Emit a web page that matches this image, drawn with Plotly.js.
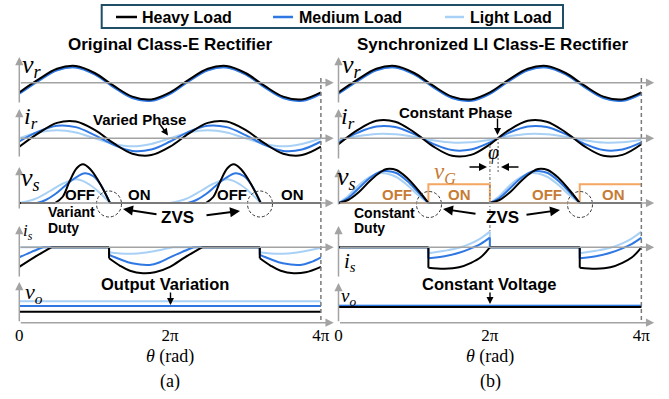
<!DOCTYPE html>
<html>
<head>
<meta charset="utf-8">
<script src="https://cdn.plot.ly/plotly-3.0.1.min.js"></script>
<style>
  html, body { margin: 0; padding: 0; background: #ffffff; }
  #chart { width: 669px; height: 399px; }
</style>
</head>
<body>
<div id="chart"></div>
<script>
const PI = Math.PI;

// ---------- series data (θ in rad unless noted; values are heights above each row's baseline) ----------
// Sinusoidal rows, sampled every quarter period (θ in units of π)
const thetaQuarterPi = [0, 0.25, 0.5, 0.75, 1, 1.25, 1.5, 1.75, 2, 2.25, 2.5, 2.75, 3, 3.25, 3.5, 3.75, 4];

// v_r : resonant voltage (same in both rectifiers)
const vrHeavy  = [-9.7, 3.0, 13.9, 16.7, 9.7, -3.0, -13.9, -16.7, -9.7, 3.0, 13.9, 16.7, 9.7, -3.0, -13.9, -16.7, -9.7];
const vrMedium = [-11.1, 1.6, 12.5, 15.3, 8.3, -4.4, -15.3, -18.1, -11.1, 1.6, 12.5, 15.3, 8.3, -4.4, -15.3, -18.1, -11.1];
const vrLight  = [-11.1, 1.6, 12.5, 15.3, 8.3, -4.4, -15.3, -18.1, -11.1, 1.6, 12.5, 15.3, 8.3, -4.4, -15.3, -18.1, -11.1];

// i_r : resonant current, original rectifier (phase varies with load)
const irHeavyA  = [-8.4, 4.9, 15.4, 16.8, 8.4, -4.9, -15.4, -16.8, -8.4, 4.9, 15.4, 16.8, 8.4, -4.9, -15.4, -16.8, -8.4];
const irMediumA = [-3.2, 6.6, 12.6, 11.2, 3.2, -6.6, -12.6, -11.2, -3.2, 6.6, 12.6, 11.2, 3.2, -6.6, -12.6, -11.2, -3.2];
const irLightA  = [0, 5.7, 8, 5.7, 0, -5.7, -8, -5.7, 0, 5.7, 8, 5.7, 0, -5.7, -8, -5.7, 0];
// i_r : synchronized rectifier (constant phase)
const irHeavyB  = [-6.0, 8.1, 17.5, 16.6, 6.0, -8.1, -17.5, -16.6, -6.0, 8.1, 17.5, 16.6, 6.0, -8.1, -17.5, -16.6, -6.0];
const irMediumB = [-4.1, 5.5, 11.8, 11.2, 4.1, -5.5, -11.8, -11.2, -4.1, 5.5, 11.8, 11.2, 4.1, -5.5, -11.8, -11.2, -4.1];
const irLightB  = [-1.5, 2.0, 4.3, 4.0, 1.5, -2.0, -4.3, -4.0, -1.5, 2.0, 4.3, 4.0, 1.5, -2.0, -4.3, -4.0, -1.5];

// v_s : switch voltage, original rectifier (null splits flat / hump segments)
const vsThetaHeavyA = [0, 1.49, null, 1.49, 1.80, 2.10, 2.40, 2.65, 2.95, 3.30, 3.78, null, 3.78, 7.77, null, 7.77, 8.08, 8.38, 8.68, 8.93, 9.23, 9.58, 10.06, null, 10.06, 12.57];
const vsHeavyA      = [0, 0, null, 0, 6, 22, 35, 38.7, 34, 22, 0, null, 0, 0, null, 0, 6, 22, 35, 38.7, 34, 22, 0, null, 0, 0];
const vsThetaMediumA = [0, 0.74, null, 0.74, 1.10, 1.50, 1.90, 2.32, 2.74, 3.07, 3.40, 3.78, null, 3.78, 7.02, null, 7.02, 7.38, 7.78, 8.18, 8.60, 9.02, 9.35, 9.68, 10.06, null, 10.06, 12.57];
const vsMediumA      = [0, 0, null, 0, 3, 9, 17, 25, 29.7, 27, 18, 0, null, 0, 0, null, 0, 3, 9, 17, 25, 29.7, 27, 18, 0, null, 0, 0];
const vsThetaLightA = [0, 0.65, 1.28, 1.78, 2.40, 2.95, 3.36, 3.78, null, 3.78, 6.28, null, 6.28, 6.93, 7.56, 8.06, 8.68, 9.23, 9.64, 10.06, null, 10.06, 12.57];
const vsLightA      = [0, 4, 12, 19, 23.7, 18, 10, 0, null, 0, 0, null, 0, 4, 12, 19, 23.7, 18, 10, 0, null, 0, 0];

// v_s : synchronized rectifier (constant duty)
const vsThetaB  = [0, 0.40, 0.85, 1.30, 1.75, 2.00, 2.40, 2.85, 3.30, 3.73, null, 3.73, 6.28, null, 6.28, 6.68, 7.13, 7.58, 8.03, 8.28, 8.68, 9.13, 9.58, 10.01, null, 10.01, 12.57];
const vsHeavyB  = [0, 3, 11, 22, 31, 34, 33, 25, 13, 0, null, 0, 0, null, 0, 3, 11, 22, 31, 34, 33, 25, 13, 0, null, 0, 0];
const vsMediumB = [0, 5, 15, 25, 31.5, 32, 30, 22, 11, 0, null, 0, 0, null, 0, 5, 15, 25, 31.5, 32, 30, 22, 11, 0, null, 0, 0];
const vsLightB  = [0, 7, 18, 26, 30, 29.5, 26, 18, 8, 0, null, 0, 0, null, 0, 7, 18, 26, 30, 29.5, 26, 18, 8, 0, null, 0, 0];

// v_G : gate drive of the synchronized switch
const vgTheta = [0, 3.73, 6.28, 10.01, 12.57];
const vgLevel = [0, 18.7, 0, 18.7, 18.7];

// i_s : switch current, original rectifier
const isThetaHeavyA = [0, 0.62, 1.33, null, 1.33, 3.74, null, 3.74, 3.74, null, 3.74, 4.20, 4.61, 5.15, 5.65, 6.28, 6.90, 7.61, null, 7.61, 10.02, null, 10.02, 10.02, null, 10.02, 10.48, 10.89, 11.43, 11.93, 12.57];
const isHeavyA      = [-19.5, -10, 0, null, 0, 0, null, 0, -11, null, -11, -18.5, -23.5, -26, -25, -19.5, -10, 0, null, 0, 0, null, 0, -11, null, -11, -18.5, -23.5, -26, -25, -19.5];
const isThetaMediumA = [0, 0.47, 0.98, null, 0.98, 3.74, null, 3.74, 3.74, null, 3.74, 4.20, 4.70, 5.43, 5.85, 6.28, 6.75, 7.26, null, 7.26, 10.02, null, 10.02, 10.02, null, 10.02, 10.48, 10.98, 11.71, 12.13, 12.57];
const isMediumA      = [-10, -5, 0, null, 0, 0, null, 0, -7.5, null, -7.5, -12, -16, -17.7, -15, -10, -5, 0, null, 0, 0, null, 0, -7.5, null, -7.5, -12, -16, -17.7, -15, -10];
const isThetaLightA = [0, 3.74, null, 3.74, 3.74, null, 3.74, 4.20, 4.70, 5.20, 5.70, 6.10, 6.40, null, 6.40, 10.02, null, 10.02, 10.02, null, 10.02, 10.48, 10.98, 11.48, 11.98, 12.38, 12.57];
const isLightA      = [0, 0, null, 0, -5, null, -5, -6.2, -6.5, -5.5, -3.5, -1.5, 0, null, 0, 0, null, 0, -5, null, -5, -6.2, -6.5, -5.5, -3.5, -1.5, -0.6];

// i_s : synchronized rectifier
const isThetaHeavyB = [0, 3.73, null, 3.73, 3.73, null, 3.73, 4.40, 5.00, 5.50, 5.90, 6.28, null, 6.28, 10.01, null, 10.01, 10.01, null, 10.01, 10.68, 11.28, 11.78, 12.18, 12.57];
const isHeavyB      = [0, 0, null, 0, -20.4, null, -20.4, -21.4, -20, -15.5, -10, 0, null, 0, 0, null, 0, -20.4, null, -20.4, -21.4, -20, -15.5, -10, 0];
const isThetaB      = [0, 3.73, null, 3.73, 3.73, null, 3.73, 4.40, 5.00, 5.50, 5.90, 6.28, null, 6.28, 6.28, null, 6.28, 10.01, null, 10.01, 10.01, null, 10.01, 10.68, 11.28, 11.78, 12.18, 12.57];
const isMediumB     = [0, 0, null, 0, -11, null, -11, -9, -5.5, -1, 3.5, 9.7, null, 9.7, 0, null, 0, 0, null, 0, -11, null, -11, -9, -5.5, -1, 3.5, 9.7];
const isLightB      = [0, 0, null, 0, -6, null, -6, -3.5, -0.5, 4, 9, 15.7, null, 15.7, 0, null, 0, 0, null, 0, -6, null, -6, -3.5, -0.5, 4, 9, 15.7];

// v_o : output voltage
const voTheta   = [0, 12.57];
const voHeavyA  = [11, 11];
const voMediumA = [16.7, 16.7];
const voLightA  = [21.4, 21.4];
const voHeavyB  = [15.6, 15.6];
const voMediumB = [16.9, 16.9];
const voLightB  = [16.9, 16.9];

// axis ticks
const tickVals = [0, 2 * PI, 4 * PI];
const tickText = ['0', '2π', '4π'];
const loadNames = ['Heavy Load', 'Medium Load', 'Light Load'];

// ---------- styling ----------
const W = 669, H = 399;
const SANS = 'Liberation Sans, Arial, Helvetica, sans-serif';
const SERIF = 'Liberation Serif, Times New Roman, serif';
const C_HEAVY = '#000000', C_MED = '#2f78e4', C_LIGHT = '#a9d1f5';
const C_AXIS = '#a3a3a3', C_DASH = '#7a7a7a';
const C_GATE = '#f4a662', C_GATE_TXT = '#c77b34';
const X_END = 13.1;                 // axis arrow tip, rad

const px = x => x / W;
const py = y => 1 - y / H;

// row bands (pixel top / bottom / baseline)
const ROWS = [
  { top: 56,  bottom: 104, base: 82.7 },   // v_r
  { top: 106, bottom: 160, base: 138.3 },  // i_r
  { top: 160, bottom: 222, base: 203 },    // v_s
  { top: 222, bottom: 282, base: 247.3 },  // i_s
  { top: 282, bottom: 323, base: 322.7 }   // v_o
];
const PANEL = [
  { x0: 19.3, scale: 24.0, xa: 'x',  yOffset: 0 },
  { x0: 338.5, scale: 24.1, xa: 'x2', yOffset: 5 }
];

const layout = {
  width: W, height: H,
  margin: { l: 0, r: 0, t: 0, b: 0 },
  paper_bgcolor: '#ffffff',
  plot_bgcolor: 'rgba(0,0,0,0)',
  showlegend: false,
  shapes: [],
  annotations: []
};

PANEL.forEach((p, pi) => {
  const xKey = pi === 0 ? 'xaxis' : 'xaxis2';
  layout[xKey] = {
    domain: [px(p.x0), px(p.x0 + X_END * p.scale)],
    range: [0, X_END],
    anchor: 'y' + (p.yOffset + 5),
    tickvals: tickVals, ticktext: tickText,
    tickfont: { family: SERIF, size: 17, color: '#000' },
    ticks: '', showgrid: false, zeroline: false, showline: false,
    fixedrange: true
  };
  ROWS.forEach((r, ri) => {
    const n = p.yOffset + ri + 1;
    layout['yaxis' + (n === 1 ? '' : n)] = {
      domain: [py(r.bottom), py(r.top)],
      range: [-(r.bottom - r.base), r.base - r.top],
      anchor: p.xa,
      showticklabels: false, showgrid: false, zeroline: false, showline: false,
      ticks: '', fixedrange: true
    };
  });
});

// ---------- traces ----------
const traces = [];
function curve(x, y, xa, ya, color, width, shape) {
  traces.push({
    type: 'scatter', mode: 'lines', x: x, y: y, xaxis: xa, yaxis: ya,
    line: { color: color, width: width || 2, shape: shape || 'spline', smoothing: 1 },
    connectgaps: false, hoverinfo: 'skip', showlegend: false
  });
}
const thQ = thetaQuarterPi.map(t => t * PI);

// panel (a)
curve(thQ, vrLight, 'x', 'y', C_LIGHT);
curve(thQ, vrMedium, 'x', 'y', C_MED);
curve(thQ, vrHeavy, 'x', 'y', C_HEAVY);
curve(thQ, irLightA, 'x', 'y2', C_LIGHT);
curve(thQ, irMediumA, 'x', 'y2', C_MED);
curve(thQ, irHeavyA, 'x', 'y2', C_HEAVY);
curve(vsThetaLightA, vsLightA, 'x', 'y3', C_LIGHT);
curve(vsThetaMediumA, vsMediumA, 'x', 'y3', C_MED);
curve(vsThetaHeavyA, vsHeavyA, 'x', 'y3', C_HEAVY);
curve(isThetaLightA, isLightA, 'x', 'y4', C_LIGHT);
curve(isThetaMediumA, isMediumA, 'x', 'y4', C_MED);
curve(isThetaHeavyA, isHeavyA, 'x', 'y4', C_HEAVY);
curve(voTheta, voLightA, 'x', 'y5', C_LIGHT, 2, 'linear');
curve(voTheta, voMediumA, 'x', 'y5', C_MED, 2, 'linear');
curve(voTheta, voHeavyA, 'x', 'y5', C_HEAVY, 2, 'linear');

// panel (b)
curve(thQ, vrLight, 'x2', 'y6', C_LIGHT);
curve(thQ, vrMedium, 'x2', 'y6', C_MED);
curve(thQ, vrHeavy, 'x2', 'y6', C_HEAVY);
curve(thQ, irLightB, 'x2', 'y7', C_LIGHT);
curve(thQ, irMediumB, 'x2', 'y7', C_MED);
curve(thQ, irHeavyB, 'x2', 'y7', C_HEAVY);
curve(vgTheta, vgLevel, 'x2', 'y8', C_GATE, 2, 'hv');
curve(vsThetaB, vsLightB, 'x2', 'y8', C_LIGHT);
curve(vsThetaB, vsMediumB, 'x2', 'y8', C_MED);
curve(vsThetaB, vsHeavyB, 'x2', 'y8', C_HEAVY);
curve(isThetaB, isLightB, 'x2', 'y9', C_LIGHT);
curve(isThetaB, isMediumB, 'x2', 'y9', C_MED);
curve(isThetaHeavyB, isHeavyB, 'x2', 'y9', C_HEAVY);
curve(voTheta, voLightB, 'x2', 'y10', C_LIGHT, 2, 'linear');
curve(voTheta, voMediumB, 'x2', 'y10', C_MED, 2, 'linear');
curve(voTheta, voHeavyB, 'x2', 'y10', C_HEAVY, 2, 'linear');

// ---------- axes drawn as arrows ----------
const A = layout.annotations, S = layout.shapes;
PANEL.forEach(p => {
  ROWS.forEach((r, ri) => {
    const yName = 'y' + (p.yOffset + ri + 1 === 1 ? '' : p.yOffset + ri + 1);
    // horizontal θ axis of the row
    A.push({ xref: p.xa, yref: yName, x: X_END, y: 0, axref: p.xa, ayref: yName, ax: 0, ay: 0,
             text: '', showarrow: true, arrowhead: 2, arrowsize: 1.1, arrowwidth: 1.5, arrowcolor: C_AXIS });
  });
});
// vertical signal axes (pixel head / tail)
const vAxes = [
  [19.3, 57, 104], [19.3, 109, 158], [19.3, 167, 210], [19.3, 226, 278], [19.3, 282, 322.7],
  [338.5, 57, 104], [338.5, 109, 160], [338.5, 169, 206], [338.5, 226, 278], [338.5, 283, 322.7]
];
vAxes.forEach(([x, top, bot]) => {
  A.push({ xref: 'paper', yref: 'paper', x: px(x), y: py(top), ax: 0, ay: bot - top,
           text: '', showarrow: true, arrowhead: 2, arrowsize: 1.1, arrowwidth: 1.5, arrowcolor: C_AXIS });
});

// dashed end-of-window markers at 4π
['x', 'x2'].forEach(xa => {
  S.push({ type: 'line', xref: xa, yref: 'paper', x0: 4 * PI, x1: 4 * PI, y0: py(78), y1: py(322.7),
           line: { color: C_DASH, width: 1.5, dash: '4px,3px' } });
});
// phase markers in (b)
S.push({ type: 'line', xref: 'x2', yref: 'paper', x0: 2 * PI, x1: 2 * PI, y0: py(145), y1: py(233),
         line: { color: C_DASH, width: 1.2, dash: '3px,2px,1px,2px' } });
S.push({ type: 'line', xref: 'x2', yref: 'paper', x0: 2 * PI + 0.34, x1: 2 * PI + 0.34, y0: py(138), y1: py(172),
         line: { color: C_DASH, width: 1.2, dash: '2px,2px' } });

// ZVS circles
[[109, 204], [260, 204], [429, 204.5], [580, 204.5]].forEach(([cx, cy]) => {
  S.push({ type: 'circle', xref: 'paper', yref: 'paper', x0: px(cx - 12.5), x1: px(cx + 12.5),
           y0: py(cy + 13), y1: py(cy - 13), line: { color: '#333', width: 1, dash: '3px,2px' } });
});

// legend box
S.push({ type: 'rect', xref: 'paper', yref: 'paper', x0: px(101.7), x1: px(563), y0: py(28), y1: py(5),
         line: { color: '#1f4e66', width: 2 } });
const legendItems = [[116, 137, 140, C_HEAVY], [273, 293, 297, C_MED], [445, 464, 468, C_LIGHT]];
legendItems.forEach(([l0, l1, tx, col], i) => {
  S.push({ type: 'line', xref: 'paper', yref: 'paper', x0: px(l0), x1: px(l1), y0: py(17), y1: py(17),
           line: { color: col, width: 2.5 } });
  A.push({ xref: 'paper', yref: 'paper', x: px(tx), y: py(17.2), text: '<b>' + loadNames[i] + '</b>',
           showarrow: false, xanchor: 'left', yanchor: 'middle', font: { family: SANS, size: 16, color: '#000' } });
});

// ---------- text ----------
function txt(text, x, y, size, opts) {
  A.push(Object.assign({ xref: 'paper', yref: 'paper', x: px(x), y: py(y), text: text, showarrow: false,
    xanchor: 'center', yanchor: 'middle', font: { family: SANS, size: size, color: '#000' } }, opts || {}));
}
function math(text, x, y, size, color) {
  A.push({ xref: 'paper', yref: 'paper', x: px(x), y: py(y), text: text, showarrow: false,
    xanchor: 'left', yanchor: 'middle', font: { family: SERIF, size: size, color: color || '#000' } });
}
function arrow(hx, hy, tx, ty, color, width) {
  A.push({ xref: 'paper', yref: 'paper', x: px(hx), y: py(hy), ax: tx - hx, ay: ty - hy, text: '',
    showarrow: true, arrowhead: 2, arrowsize: 1, arrowwidth: width || 1.6, arrowcolor: color || '#000' });
}

txt('<b>Original Class-E Rectifier</b>', 170, 44, 17);
txt('<b>Synchronized LI Class-E Rectifier</b>', 493, 44, 17);

// signal names
math('<i>v</i><sub><i>r</i></sub>', 20, 66, 26);
math('<i>i</i><sub><i>r</i></sub>', 22, 118, 24);
math('<i>v</i><sub><i>s</i></sub>', 19, 179, 26);
math('<i>i</i><sub><i>s</i></sub>', 21, 232, 17);
math('<i>v</i><sub><i>o</i></sub>', 23, 293, 22);
math('<i>v</i><sub><i>r</i></sub>', 340, 66, 26);
math('<i>i</i><sub><i>r</i></sub>', 339, 118, 24);
math('<i>v</i><sub><i>s</i></sub>', 335, 178, 26);
math('<i>i</i><sub><i>s</i></sub>', 342, 262, 21);
math('<i>v</i><sub><i>o</i></sub>', 339, 297, 19);
math('<i>v</i><sub><i>G</i></sub>', 432, 173, 23, C_GATE_TXT);
txt('<i>φ</i>', 493, 153, 20, { font: { family: SERIF, size: 20, color: '#000' } });

// phase notes
txt('<b>Varied Phase</b>', 139, 119.7, 15);
arrow(168, 135.5, 159, 123, '#000', 1.4);
txt('<b>Constant Phase</b>', 455, 112.2, 15);
arrow(497.5, 135, 497.5, 117, '#000', 1.4);
arrow(487, 167, 468, 167, '#000', 1.6);
arrow(501, 167, 520, 167, '#000', 1.6);

// switch states
[[80, 'OFF'], [139, 'ON'], [232, 'OFF'], [292, 'ON']].forEach(([x, s]) => txt('<b>' + s + '</b>', x, 194.7, 15));
[[397, 'OFF'], [460, 'ON'], [547, 'OFF'], [613, 'ON']].forEach(([x, s]) =>
  txt('<b>' + s + '</b>', x, 194, 15, { font: { family: SANS, size: 15, color: C_GATE_TXT } }));

txt('<b>Variant</b>', 46, 212, 14, { xanchor: 'left' });
txt('<b>Duty</b>', 46, 227.5, 14, { xanchor: 'left' });
txt('<b>Constant</b>', 352, 212.5, 14, { xanchor: 'left' });
txt('<b>Duty</b>', 352, 227.5, 14, { xanchor: 'left' });

// ZVS callouts
txt('<b>ZVS</b>', 177, 217.5, 17);
arrow(123, 209, 158, 214.5, '#000', 2);
arrow(240, 211, 205, 215.5, '#000', 2);
txt('<b>ZVS</b>', 502, 217.5, 17);
arrow(443, 209, 477, 214, '#000', 2);
arrow(560, 210, 525, 215, '#000', 2);

// output notes
txt('<b>Output Variation</b>', 165, 283.7, 16.5);
arrow(170.5, 305, 170.5, 291, '#000', 1.4);
txt('<b>Constant Voltage</b>', 488.5, 283.7, 16.5);
arrow(490, 304, 490, 291, '#000', 1.4);

// axis titles and panel tags
[[170, '(a)'], [490, '(b)']].forEach(([x, tag]) => {
  txt('<i>θ</i> (rad)', x, 356, 18, { font: { family: SERIF, size: 18, color: '#000' } });
  txt(tag, x, 381, 18, { font: { family: SERIF, size: 18, color: '#000' } });
});

Plotly.newPlot('chart', traces, layout, { staticPlot: true, displayModeBar: false });
</script>
</body>
</html>
